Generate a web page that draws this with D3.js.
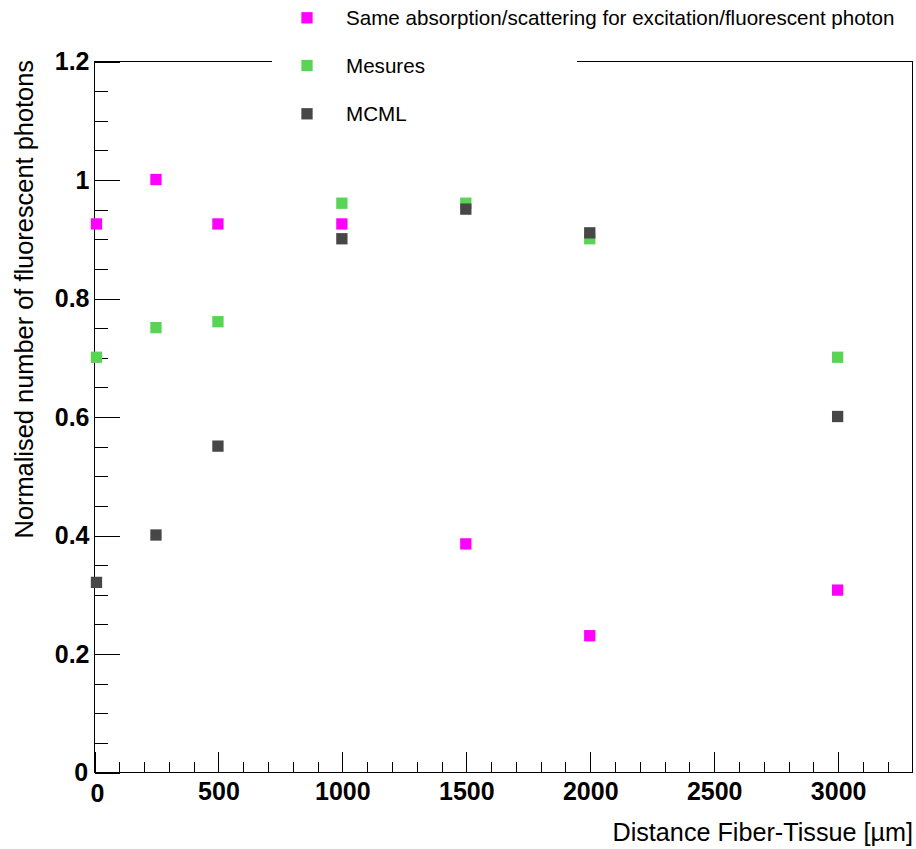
<!DOCTYPE html>
<html>
<head>
<meta charset="utf-8">
<script src="https://cdn.jsdelivr.net/npm/d3@7"></script>
<style>
  html, body { margin: 0; padding: 0; background: #fff; }
  svg { display: block; font-family: "Liberation Sans", Arial, Helvetica, sans-serif; }
</style>
</head>
<body>
<svg id="chart" width="916" height="849"></svg>
<script>
// Distance between fiber and tissue, in micrometres
const distances = [10, 250, 500, 1000, 1500, 2000, 3000];

// Normalised fluorescent photon counts per series
const sameAbsorption = [0.925, 1.0, 0.925, 0.925, 0.385, 0.23, 0.307];
const mesures        = [0.70, 0.75, 0.76, 0.96, 0.96, 0.90, 0.70];
const mcml           = [0.32, 0.40, 0.55, 0.90, 0.95, 0.91, 0.60];

const seriesNames  = ["Same absorption/scattering for excitation/fluorescent photon", "Mesures", "MCML"];
const seriesColors = ["#ff00ff", "#59d454", "#474747"];

const xMajorTicks = [0, 500, 1000, 1500, 2000, 2500, 3000];
const yMajorTicks = [0, 0.2, 0.4, 0.6, 0.8, 1.0, 1.2];

const svg = d3.select("#chart");

const frame = { left: 94, right: 912, top: 61, bottom: 772 };

const x = d3.scaleLinear().domain([0, 3300]).range([frame.left, frame.right]);
const y = d3.scaleLinear().domain([0, 1.2]).range([frame.bottom, frame.top]);

// minor tick positions
const xMinorTicks = d3.range(0, 3300, 100).filter(v => v % 500 !== 0);
const yMinorTicks = d3.range(0, 1.2001, 0.05).map(v => +v.toFixed(2))
  .filter(v => Math.abs(v * 5 - Math.round(v * 5)) > 1e-6);

// frame
svg.append("rect")
  .attr("x", frame.left + 0.5).attr("y", frame.top + 0.5)
  .attr("width", frame.right - frame.left).attr("height", frame.bottom - frame.top)
  .attr("fill", "none").attr("stroke", "#000").attr("stroke-width", 1)
  .attr("shape-rendering", "crispEdges");

// x axis (ticks pointing into the frame)
const xAt = `translate(0.5,${frame.bottom + 0.5})`;
svg.append("g").attr("transform", xAt)
  .call(d3.axisBottom(x).tickValues(xMinorTicks).tickSize(-10.5).tickFormat(""));
const gx = svg.append("g").attr("transform", xAt)
  .call(d3.axisBottom(x).tickValues(xMajorTicks).tickSize(-21).tickPadding(10)
    .tickFormat(d3.format("d")));

// y axis
const yAt = `translate(${frame.left + 0.5},0.5)`;
svg.append("g").attr("transform", yAt)
  .call(d3.axisLeft(y).tickValues(yMinorTicks).tickSize(-13).tickFormat(""));
const gy = svg.append("g").attr("transform", yAt)
  .call(d3.axisLeft(y).tickValues(yMajorTicks).tickSize(-25).tickPadding(5)
    .tickFormat(d => d3.format("~g")(d)));

svg.selectAll(".domain").remove();
svg.selectAll(".tick line").attr("stroke", "#000").attr("shape-rendering", "crispEdges");
svg.selectAll(".tick text")
  .attr("fill", "#000")
  .style("font-size", "25px")
  .style("font-weight", "bold")
  .style("font-family", "'Liberation Sans', Arial, Helvetica, sans-serif");

// nudge the bottom-left "0" labels apart as they sit near the corner
gx.selectAll(".tick text").filter(d => d === 0).attr("dx", "0.1em").attr("dy", "0.76em");
gy.selectAll(".tick text").filter(d => d === 0).attr("dx", "-0.05em");

// axis titles
svg.append("text")
  .attr("x", 913).attr("y", 841)
  .attr("text-anchor", "end")
  .style("font-size", "25.2px")
  .text("Distance Fiber-Tissue [\u00b5m]");

svg.append("text")
  .attr("transform", "translate(33,60) rotate(-90)")
  .attr("text-anchor", "end")
  .style("font-size", "25.4px")
  .text("Normalised number of fluorescent photons");

// markers
const markerSize = 11.3;
const allSeries = [sameAbsorption, mesures, mcml];
allSeries.forEach((vals, i) => {
  svg.append("g")
    .selectAll("rect")
    .data(vals.map((v, j) => ({ x: distances[j], y: v })))
    .join("rect")
    .attr("x", d => x(d.x) - markerSize / 2)
    .attr("y", d => y(d.y) - markerSize / 2)
    .attr("width", markerSize)
    .attr("height", markerSize)
    .attr("fill", seriesColors[i]);
});

// legend box (white, no border) laid over the top of the frame
const legend = svg.append("g");
legend.append("rect")
  .attr("x", 272).attr("y", 0).attr("width", 305).attr("height", 140)
  .attr("fill", "#fff");

const legendRows = [17.8, 65.5, 113.8];
seriesNames.forEach((name, i) => {
  legend.append("rect")
    .attr("x", 307 - markerSize / 2).attr("y", legendRows[i] - markerSize / 2)
    .attr("width", markerSize).attr("height", markerSize)
    .attr("fill", seriesColors[i]);
  legend.append("text")
    .attr("x", 346).attr("y", legendRows[i] + 7.5)
    .style("font-size", "20.6px")
    .text(name);
});
</script>
</body>
</html>
